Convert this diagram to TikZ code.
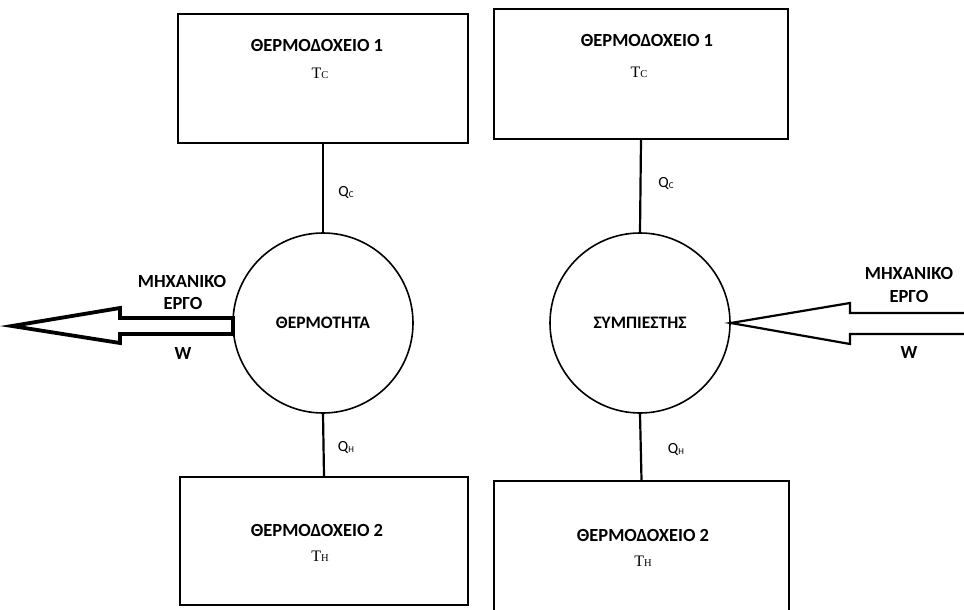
\documentclass[tikz,border=0pt]{standalone}
\usepackage{fontspec}
\setmainfont{Carlito}
\newfontfamily\tempfont{Liberation Serif}
\usetikzlibrary{positioning}
\pgfdeclarelayer{edgelayer}
\pgfdeclarelayer{nodelayer}
\pgfsetlayers{edgelayer,nodelayer,main}
\tikzstyle{none}=[inner sep=0pt]
\tikzstyle{reservoir}=[rectangle,draw=black,line width=2.2pt,inner sep=0pt]
\tikzstyle{engine}=[circle,draw=black,line width=1.6pt,minimum size=180pt,inner sep=0pt,font=\bfseries\fontsize{17.5}{20}\selectfont]
\tikzstyle{heading}=[inner sep=0pt,font=\bfseries\fontsize{18.5}{21}\selectfont]
\tikzstyle{temp}=[inner sep=0pt,font=\tempfont\fontsize{16}{18}\selectfont]
\tikzstyle{heat}=[inner sep=0pt,font=\fontsize{15.5}{18}\selectfont]
\tikzstyle{link}=[-,draw=black,line width=2.2pt]
\tikzstyle{workarrow}=[draw=black,line width=3.8pt,line join=miter]
\tikzstyle{workarrowthin}=[draw=black,line width=2.2pt,line join=miter]
\newcommand{\smallidx}[1]{{\fontsize{10.5}{12}\selectfont #1}}
\newcommand{\lowidx}[1]{\raisebox{-1.5pt}{\fontsize{9}{10}\selectfont #1}}

\begin{document}
\begin{tikzpicture}[x=1pt,y=-1pt]
	\clip (0,0) rectangle (964,610);
	\begin{pgfonlayer}{nodelayer}
		% heat engine
		\node [style=reservoir, minimum width=290pt, minimum height=129pt] (TopL) at (323,78.5) {};
		\node [style=heading] (TopLName) at (317,45) {ΘΕΡΜΟΔΟΧΕΙΟ 1};
		\node [style=temp] (TopLTemp) at (320,73) {T\smallidx{C}};
		\node [style=engine] (EngL) at (323,323) {ΘΕΡΜΟΤΗΤΑ};
		\node [style=reservoir, minimum width=288pt, minimum height=128pt] (BotL) at (324,541) {};
		\node [style=heading] (BotLName) at (317,530) {ΘΕΡΜΟΔΟΧΕΙΟ 2};
		\node [style=temp] (BotLTemp) at (320,556) {T\smallidx{H}};
		\node [style=heat] (QcL) at (346,192) {Q\lowidx{C}};
		\node [style=heat] (QhL) at (346,447) {Q\lowidx{H}};
		\node [style=heading] (WorkL1) at (182,281) {ΜΗΧΑΝΙΚΟ};
		\node [style=heading] (WorkL2) at (183,303) {ΕΡΓΟ};
		\node [style=heading] (WL) at (183,353) {W};
		\node [style=none] (LTip) at (12,326) {};
		\node [style=none] (LHeadT) at (120,308) {};
		\node [style=none] (LHeadB) at (120,343) {};
		\node [style=none] (LShaftTL) at (120,318) {};
		\node [style=none] (LShaftBL) at (120,334) {};
		\node [style=none] (LShaftTR) at (233,318) {};
		\node [style=none] (LShaftBR) at (233,334) {};
		% compressor
		\node [style=reservoir, minimum width=294pt, minimum height=130pt] (TopR) at (641,74) {};
		\node [style=heading] (TopRName) at (647,40) {ΘΕΡΜΟΔΟΧΕΙΟ 1};
		\node [style=temp] (TopRTemp) at (639,72) {T\smallidx{C}};
		\node [style=engine] (EngR) at (640,323) {ΣΥΜΠΙΕΣΤΗΣ};
		\node [style=reservoir, minimum width=295pt, minimum height=159pt] (BotR) at (641.5,560.5) {};
		\node [style=heading] (BotRName) at (643,535) {ΘΕΡΜΟΔΟΧΕΙΟ 2};
		\node [style=temp] (BotRTemp) at (643,561) {T\smallidx{H}};
		\node [style=heat] (QcR) at (666,183) {Q\lowidx{C}};
		\node [style=heat] (QhR) at (676,449) {Q\lowidx{H}};
		\node [style=heading] (WorkR1) at (909,273) {ΜΗΧΑΝΙΚΟ};
		\node [style=heading] (WorkR2) at (909,296) {ΕΡΓΟ};
		\node [style=heading] (WR) at (909,352) {W};
		\node [style=none] (RHeadT) at (850,303) {};
		\node [style=none] (RHeadB) at (850,344) {};
		\node [style=none] (RShaftTL) at (850,313) {};
		\node [style=none] (RShaftBL) at (850,334) {};
		\node [style=none] (RShaftTR) at (966,313) {};
		\node [style=none] (RShaftBR) at (966,334) {};
	\end{pgfonlayer}
	\begin{pgfonlayer}{edgelayer}
		\draw [style=link] (TopL.south) to (EngL.north);
		\draw [style=link] (EngL.south) to (BotL.north);
		\draw [style=link] (TopR.south) to (EngR.north);
		\draw [style=link] (EngR.south) to (BotR.north);
		\draw [style=workarrow] (LShaftTR.center) -- (LShaftTL.center) -- (LHeadT.center) -- (LTip.center) -- (LHeadB.center) -- (LShaftBL.center) -- (LShaftBR.center) -- cycle;
		\draw [style=workarrowthin] (RShaftTR.center) -- (RShaftTL.center) -- (RHeadT.center) -- (EngR.east) -- (RHeadB.center) -- (RShaftBL.center) -- (RShaftBR.center);
	\end{pgfonlayer}
\end{tikzpicture}
\end{document}
